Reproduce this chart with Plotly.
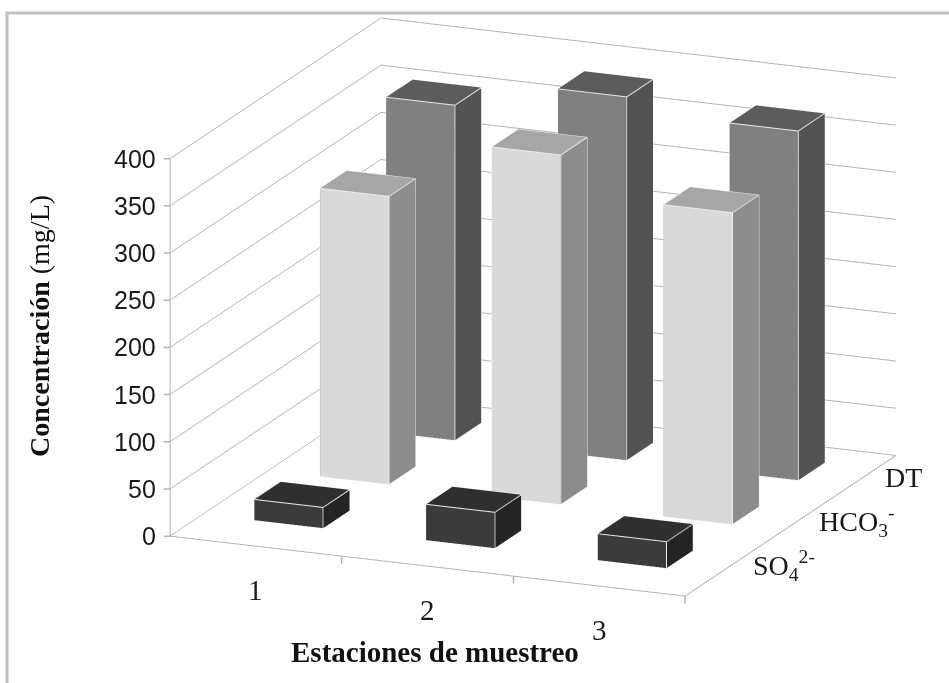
import plotly.graph_objects as go

# Sampling stations (category axis) and analytes (depth axis)
stations = ["1", "2", "3"]
analytes = ["SO<sub>4</sub><sup>2-</sup>", "HCO<sub>3</sub><sup>-</sup>", "DT"]

# Concentrations in mg/L per station
so4 = [22, 38, 28]
hco3 = [305, 370, 330]
dt = [355, 385, 370]

z_ticks = [0, 50, 100, 150, 200, 250, 300, 350, 400]

series_values = [so4, hco3, dt]
# (front, right side, top) face colours for each analyte
series_faces = [
    ("#3b3b3b", "#242424", "#2f2f2f"),
    ("#d9d9d9", "#8c8c8c", "#a6a6a6"),
    ("#808080", "#535353", "#5c5c5c"),
]

BAR_W = 0.4
BAR_D = 0.4
GRID = "#b3b3b3"
x_pos = list(range(1, len(stations) + 1))
y_pos = list(range(len(analytes)))
x_rng = [0.5, len(stations) + 0.5]
y_rng = [-0.7, len(analytes) - 0.5]
z_rng = [0, 400]
EPS = 1e-3  # keep edge marks/labels just inside the axis range so they stay visible


def bar_mesh(xc, yc, h, faces):
    front, side, top = faces
    x0, x1 = xc - BAR_W / 2, xc + BAR_W / 2
    y0, y1 = yc - BAR_D / 2, yc + BAR_D / 2
    xs = [x0, x1, x1, x0, x0, x1, x1, x0]
    ys = [y0, y0, y1, y1, y0, y0, y1, y1]
    zs = [0, 0, 0, 0, h, h, h, h]
    tri = [
        (0, 1, 2, side), (0, 2, 3, side),      # bottom
        (4, 5, 6, top), (4, 6, 7, top),        # top
        (0, 1, 5, front), (0, 5, 4, front),    # front
        (3, 2, 6, side), (3, 6, 7, side),      # back
        (0, 3, 7, side), (0, 7, 4, side),      # left
        (1, 2, 6, side), (1, 6, 5, side),      # right
    ]
    mesh = go.Mesh3d(
        x=xs, y=ys, z=zs,
        i=[t[0] for t in tri], j=[t[1] for t in tri], k=[t[2] for t in tri],
        facecolor=[t[3] for t in tri],
        flatshading=True,
        lighting=dict(ambient=1.0, diffuse=0.0, specular=0.0, roughness=1.0, fresnel=0.0),
        hoverinfo="skip", showscale=False,
    )
    ex, ey, ez = [], [], []
    paths = [
        [(x0, y0, 0), (x1, y0, 0), (x1, y0, h), (x0, y0, h), (x0, y0, 0)],
        [(x0, y0, h), (x0, y1, h), (x1, y1, h), (x1, y0, h)],
        [(x1, y0, 0), (x1, y1, 0), (x1, y1, h)],
    ]
    for p in paths:
        for (a, b, c) in p:
            ex.append(a); ey.append(b); ez.append(c)
        ex.append(None); ey.append(None); ez.append(None)
    edges = go.Scatter3d(x=ex, y=ey, z=ez, mode="lines",
                         line=dict(color="#ececec", width=2),
                         hoverinfo="skip", showlegend=False)
    return mesh, edges


fig = go.Figure()
for yi, vals, faces in zip(y_pos, series_values, series_faces):
    for xi, v in zip(x_pos, vals):
        m, e = bar_mesh(xi, yi, v, faces)
        fig.add_trace(m)
        fig.add_trace(e)

# Floor outline (front and right edges) and the vertical value axis
xa, xb = x_rng[0] + EPS, x_rng[1] - EPS
ya, yb = y_rng[0] + EPS, y_rng[1] - EPS
fig.add_trace(go.Scatter3d(
    x=[xa, xb, xb], y=[ya, ya, yb], z=[EPS, EPS, EPS],
    mode="lines", line=dict(color=GRID, width=2),
    hoverinfo="skip", showlegend=False))
fig.add_trace(go.Scatter3d(
    x=[xa, xa], y=[ya, ya], z=[z_rng[0] + EPS, z_rng[1] - EPS],
    mode="lines", line=dict(color=GRID, width=2),
    hoverinfo="skip", showlegend=False))

serif = "Liberation Serif, Times New Roman, serif"
sans = "Liberation Sans, Arial, sans-serif"

scene_notes = []
# value axis: tick marks and labels
for v in z_ticks:
    zv = min(max(v, z_rng[0] + EPS), z_rng[1] - EPS)
    scene_notes.append(dict(x=xa, y=ya, z=zv, text="", showarrow=True,
                            arrowhead=0, arrowwidth=1.5, arrowcolor=GRID,
                            ax=-8, ay=0))
    scene_notes.append(dict(x=xa, y=ya, z=zv, text=str(v), showarrow=False,
                            xanchor="right", yanchor="middle", xshift=-12,
                            font=dict(family=sans, size=25, color="#1a1a1a")))
# category axis: tick marks between stations and station labels
for b in [1.5, 2.5, 3.5]:
    scene_notes.append(dict(x=min(b, xb), y=ya, z=EPS, text="",
                            showarrow=True, arrowhead=0, arrowwidth=1.5,
                            arrowcolor=GRID, ax=0, ay=9))
for xi, s in zip(x_pos, stations):
    scene_notes.append(dict(x=xi, y=ya, z=EPS, text=s, showarrow=False,
                            xanchor="center", yanchor="middle",
                            xshift=0, yshift=-44,
                            font=dict(family=serif, size=29, color="#1a1a1a")))
# depth axis: analyte labels
for yi, s in zip(y_pos, analytes):
    scene_notes.append(dict(x=xb, y=yi, z=EPS, text=s, showarrow=False,
                            xanchor="left", yanchor="middle", xshift=20,
                            font=dict(family=serif, size=28, color="#1a1a1a")))

axis_common = dict(showbackground=True, backgroundcolor="white",
                   showspikes=False, zeroline=False, showline=False,
                   showticklabels=False, ticks="", title=dict(text=""))

EYE = 1.8
DZ = 0.105
view = (0.3701, -0.8862, 0.2785)
fig.update_layout(
    width=949, height=683,
    margin=dict(l=0, r=0, t=0, b=0),
    paper_bgcolor="white",
    showlegend=False,
    hovermode=False,
    scene=dict(
        domain=dict(x=[0.1233, 1.0], y=[0.0, 1.0]),
        xaxis=dict(range=x_rng, tickvals=x_pos, showgrid=False, **axis_common),
        yaxis=dict(range=y_rng, tickvals=y_pos, showgrid=False, **axis_common),
        zaxis=dict(range=z_rng, tickvals=z_ticks, showgrid=True,
                   gridcolor=GRID, gridwidth=2, **axis_common),
        aspectmode="manual",
        aspectratio=dict(x=1.635, y=1.603, z=1.151),
        camera=dict(
            eye=dict(x=view[0] * EYE, y=view[1] * EYE, z=view[2] * EYE - DZ),
            up=dict(x=0, y=0, z=1),
            center=dict(x=0, y=0, z=-DZ),
            projection=dict(type="orthographic"),
        ),
        annotations=scene_notes,
    ),
    shapes=[dict(type="rect", xref="paper", yref="paper", layer="below",
                 x0=7 / 949, x1=1.02, y0=-0.02, y1=1 - 13 / 683,
                 line=dict(color="#c0c0c0", width=3))],
    annotations=[
        dict(text="<b>Concentración</b> (mg/L)", xref="paper", yref="paper",
             x=40 / 949, y=1 - 326 / 683, xanchor="center", yanchor="middle",
             showarrow=False, textangle=-90,
             font=dict(family=serif, size=28, color="#111111")),
        dict(text="<b>Estaciones de muestreo</b>", xref="paper", yref="paper",
             x=435 / 949, y=1 - 652 / 683, xanchor="center", yanchor="middle",
             showarrow=False,
             font=dict(family=serif, size=29, color="#111111")),
    ],
)

fig.write_html("out.html")
